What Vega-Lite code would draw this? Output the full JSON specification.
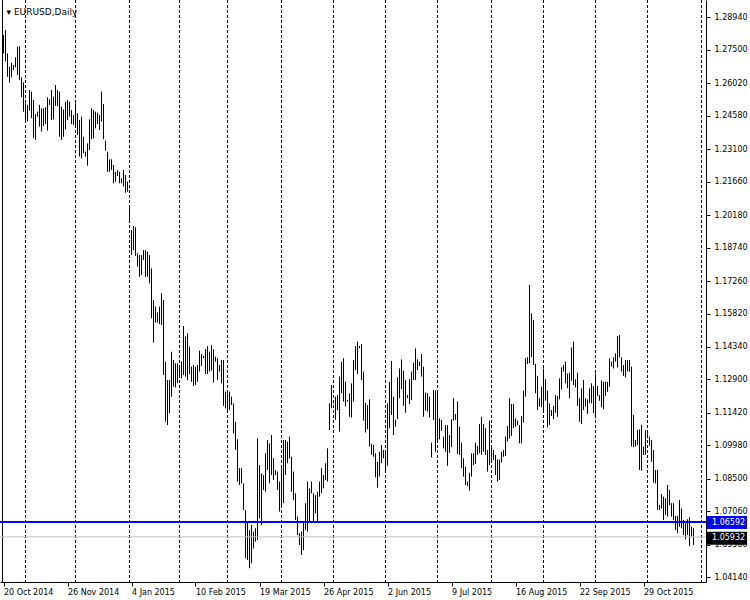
{
"$schema": "https://vega.github.io/schema/vega-lite/v6.json",
"width": 706, "height": 582,
"autosize": {"type": "none"},
"padding": {"left": 0, "top": 0, "right": 44, "bottom": 18},
"background": "white",
"config": {"view": {"stroke": null}, "font": "DejaVu Sans", "axis": {"labelOverlap": false, "labelBound": false, "labelFlush": false}},
"datasets": {
"grid": [{"i":11},{"i":36},{"i":63},{"i":88},{"i":112},{"i":139},{"i":165},{"i":191},{"i":217},{"i":244},{"i":270},{"i":296},{"i":322},{"i":349}],
"bars": [
{"i":0,"h":1.2816,"l":1.2734},{"i":1,"h":1.2838,"l":1.2698},{"i":2,"h":1.2734,"l":1.2631},{"i":3,"h":1.2675,"l":1.2605},{"i":4,"h":1.2693,"l":1.2628},{"i":5,"h":1.2683,"l":1.2661},{"i":6,"h":1.2717,"l":1.2672},{"i":7,"h":1.2764,"l":1.2638},{"i":8,"h":1.2767,"l":1.2616},{"i":9,"h":1.2628,"l":1.2540},
{"i":10,"h":1.2606,"l":1.2476},{"i":11,"h":1.2513,"l":1.2439},{"i":12,"h":1.2506,"l":1.2432},{"i":13,"h":1.2572,"l":1.2481},{"i":14,"h":1.2565,"l":1.2447},{"i":15,"h":1.2528,"l":1.2358},{"i":16,"h":1.2466,"l":1.2351},{"i":17,"h":1.2476,"l":1.2454},{"i":18,"h":1.2506,"l":1.2410},{"i":19,"h":1.2491,"l":1.2388},
{"i":20,"h":1.2491,"l":1.2413},{"i":21,"h":1.2495,"l":1.2421},{"i":22,"h":1.2540,"l":1.2392},{"i":23,"h":1.2531,"l":1.2506},{"i":24,"h":1.2572,"l":1.2439},{"i":25,"h":1.2543,"l":1.2442},{"i":26,"h":1.2594,"l":1.2501},{"i":27,"h":1.2572,"l":1.2501},{"i":28,"h":1.2565,"l":1.2365},{"i":29,"h":1.2498,"l":1.2351},
{"i":30,"h":1.2486,"l":1.2365},{"i":31,"h":1.2520,"l":1.2398},{"i":32,"h":1.2528,"l":1.2439},{"i":33,"h":1.2520,"l":1.2454},{"i":34,"h":1.2483,"l":1.2421},{"i":35,"h":1.2461,"l":1.2417},{"i":36,"h":1.2513,"l":1.2413},{"i":37,"h":1.2469,"l":1.2373},{"i":38,"h":1.2439,"l":1.2277},{"i":39,"h":1.2454,"l":1.2269},
{"i":40,"h":1.2365,"l":1.2292},{"i":41,"h":1.2299,"l":1.2277},{"i":42,"h":1.2336,"l":1.2237},{"i":43,"h":1.2442,"l":1.2306},{"i":44,"h":1.2491,"l":1.2354},{"i":45,"h":1.2483,"l":1.2358},{"i":46,"h":1.2476,"l":1.2402},{"i":47,"h":1.2472,"l":1.2421},{"i":48,"h":1.2461,"l":1.2395},{"i":49,"h":1.2565,"l":1.2432},
{"i":50,"h":1.2510,"l":1.2354},{"i":51,"h":1.2348,"l":1.2303},{"i":52,"h":1.2299,"l":1.2210},{"i":53,"h":1.2265,"l":1.2210},{"i":54,"h":1.2265,"l":1.2218},{"i":55,"h":1.2240,"l":1.2159},{"i":56,"h":1.2210,"l":1.2166},{"i":57,"h":1.2218,"l":1.2191},{"i":58,"h":1.2210,"l":1.2159},{"i":59,"h":1.2181,"l":1.2159},
{"i":60,"h":1.2218,"l":1.2144},{"i":61,"h":1.2196,"l":1.2117},{"i":62,"h":1.2166,"l":1.2122},{"i":63,"h":1.2063,"l":1.1996},{"i":64,"h":1.1952,"l":1.1841},{"i":65,"h":1.1970,"l":1.1863},{"i":66,"h":1.1964,"l":1.1837},{"i":67,"h":1.1849,"l":1.1790},{"i":68,"h":1.1841,"l":1.1745},{"i":69,"h":1.1841,"l":1.1753},
{"i":70,"h":1.1863,"l":1.1819},{"i":71,"h":1.1863,"l":1.1745},{"i":72,"h":1.1856,"l":1.1745},{"i":73,"h":1.1841,"l":1.1716},{"i":74,"h":1.1782,"l":1.1561},{"i":75,"h":1.1642,"l":1.1453},{"i":76,"h":1.1613,"l":1.1542},{"i":77,"h":1.1586,"l":1.1542},{"i":78,"h":1.1613,"l":1.1536},{"i":79,"h":1.1672,"l":1.1531},
{"i":80,"h":1.1642,"l":1.1310},{"i":81,"h":1.1369,"l":1.1103},{"i":82,"h":1.1288,"l":1.1088},{"i":83,"h":1.1288,"l":1.1140},{"i":84,"h":1.1413,"l":1.1214},{"i":85,"h":1.1376,"l":1.1258},{"i":86,"h":1.1362,"l":1.1255},{"i":87,"h":1.1362,"l":1.1273},{"i":88,"h":1.1347,"l":1.1303},{"i":89,"h":1.1369,"l":1.1295},
{"i":90,"h":1.1527,"l":1.1310},{"i":91,"h":1.1480,"l":1.1303},{"i":92,"h":1.1494,"l":1.1288},{"i":93,"h":1.1435,"l":1.1314},{"i":94,"h":1.1347,"l":1.1280},{"i":95,"h":1.1354,"l":1.1261},{"i":96,"h":1.1347,"l":1.1266},{"i":97,"h":1.1354,"l":1.1280},{"i":98,"h":1.1418,"l":1.1325},{"i":99,"h":1.1403,"l":1.1350},
{"i":100,"h":1.1394,"l":1.1384},{"i":101,"h":1.1424,"l":1.1314},{"i":102,"h":1.1438,"l":1.1314},{"i":103,"h":1.1413,"l":1.1325},{"i":104,"h":1.1443,"l":1.1329},{"i":105,"h":1.1424,"l":1.1276},{"i":106,"h":1.1391,"l":1.1369},{"i":107,"h":1.1384,"l":1.1288},{"i":108,"h":1.1354,"l":1.1325},{"i":109,"h":1.1376,"l":1.1273},
{"i":110,"h":1.1376,"l":1.1173},{"i":111,"h":1.1236,"l":1.1162},{"i":112,"h":1.1229,"l":1.1148},{"i":113,"h":1.1236,"l":1.1155},{"i":114,"h":1.1214,"l":1.1177},{"i":115,"h":1.1184,"l":1.1052},{"i":116,"h":1.1103,"l":1.0978},{"i":117,"h":1.1025,"l":1.0838},{"i":118,"h":1.0897,"l":1.0823},{"i":119,"h":1.0897,"l":1.0830},
{"i":120,"h":1.0830,"l":1.0712},{"i":121,"h":1.0712,"l":1.0498},{"i":122,"h":1.0660,"l":1.0491},{"i":123,"h":1.0623,"l":1.0454},{"i":124,"h":1.0646,"l":1.0476},{"i":125,"h":1.0616,"l":1.0542},{"i":126,"h":1.0631,"l":1.0572},{"i":127,"h":1.1029,"l":1.0579},{"i":128,"h":1.0911,"l":1.0675},{"i":129,"h":1.0874,"l":1.0646},
{"i":130,"h":1.0867,"l":1.0801},{"i":131,"h":1.0963,"l":1.0793},{"i":132,"h":1.1022,"l":1.0889},{"i":133,"h":1.1007,"l":1.0830},{"i":134,"h":1.1044,"l":1.0867},{"i":135,"h":1.0941,"l":1.0845},{"i":136,"h":1.0889,"l":1.0867},{"i":137,"h":1.0882,"l":1.0801},{"i":138,"h":1.0838,"l":1.0705},{"i":139,"h":1.0897,"l":1.0734},
{"i":140,"h":1.1022,"l":1.0742},{"i":141,"h":1.1022,"l":1.0867},{"i":142,"h":1.1015,"l":1.0919},{"i":143,"h":1.1037,"l":1.0941},{"i":144,"h":1.0948,"l":1.0793},{"i":145,"h":1.0882,"l":1.0756},{"i":146,"h":1.0786,"l":1.0668},{"i":147,"h":1.0683,"l":1.0601},{"i":148,"h":1.0609,"l":1.0557},{"i":149,"h":1.0616,"l":1.0513},
{"i":150,"h":1.0660,"l":1.0535},{"i":151,"h":1.0742,"l":1.0623},{"i":152,"h":1.0838,"l":1.0616},{"i":153,"h":1.0808,"l":1.0660},{"i":154,"h":1.0838,"l":1.0786},{"i":155,"h":1.0786,"l":1.0660},{"i":156,"h":1.0778,"l":1.0697},{"i":157,"h":1.0793,"l":1.0660},{"i":158,"h":1.0838,"l":1.0771},{"i":159,"h":1.0897,"l":1.0786},
{"i":160,"h":1.0867,"l":1.0808},{"i":161,"h":1.0919,"l":1.0845},{"i":162,"h":1.0985,"l":1.0838},{"i":163,"h":1.1184,"l":1.1066},{"i":164,"h":1.1266,"l":1.1162},{"i":165,"h":1.1199,"l":1.1184},{"i":166,"h":1.1214,"l":1.1111},{"i":167,"h":1.1221,"l":1.1155},{"i":168,"h":1.1303,"l":1.1059},{"i":169,"h":1.1369,"l":1.1229},
{"i":170,"h":1.1384,"l":1.1192},{"i":171,"h":1.1280,"l":1.1170},{"i":172,"h":1.1199,"l":1.1192},{"i":173,"h":1.1229,"l":1.1125},{"i":174,"h":1.1273,"l":1.1122},{"i":175,"h":1.1376,"l":1.1192},{"i":176,"h":1.1438,"l":1.1332},{"i":177,"h":1.1458,"l":1.1314},{"i":178,"h":1.1438,"l":1.1428},{"i":179,"h":1.1447,"l":1.1288},
{"i":180,"h":1.1325,"l":1.1108},{"i":181,"h":1.1187,"l":1.1055},{"i":182,"h":1.1177,"l":1.1069},{"i":183,"h":1.1202,"l":1.0993},{"i":184,"h":1.1004,"l":1.0956},{"i":185,"h":1.1000,"l":1.0948},{"i":186,"h":1.0963,"l":1.0857},{"i":187,"h":1.0926,"l":1.0811},{"i":188,"h":1.0970,"l":1.0860},{"i":189,"h":1.1000,"l":1.0919},
{"i":190,"h":1.0978,"l":1.0941},{"i":191,"h":1.0978,"l":1.0877},{"i":192,"h":1.1184,"l":1.0908},{"i":193,"h":1.1280,"l":1.1074},{"i":194,"h":1.1372,"l":1.1133},{"i":195,"h":1.1214,"l":1.1044},{"i":196,"h":1.1111,"l":1.1081},{"i":197,"h":1.1300,"l":1.1114},{"i":198,"h":1.1339,"l":1.1207},{"i":199,"h":1.1379,"l":1.1246},
{"i":200,"h":1.1329,"l":1.1173},{"i":201,"h":1.1288,"l":1.1143},{"i":202,"h":1.1221,"l":1.1207},{"i":203,"h":1.1291,"l":1.1181},{"i":204,"h":1.1325,"l":1.1199},{"i":205,"h":1.1365,"l":1.1288},{"i":206,"h":1.1428,"l":1.1288},{"i":207,"h":1.1379,"l":1.1332},{"i":208,"h":1.1369,"l":1.1350},{"i":209,"h":1.1403,"l":1.1303},
{"i":210,"h":1.1347,"l":1.1125},{"i":211,"h":1.1232,"l":1.1152},{"i":212,"h":1.1229,"l":1.1148},{"i":213,"h":1.1214,"l":1.1122},{"i":214,"h":1.1010,"l":1.0945},{"i":215,"h":1.1243,"l":1.1111},{"i":216,"h":1.1241,"l":1.0970},{"i":217,"h":1.1241,"l":1.1010},{"i":218,"h":1.1118,"l":1.1025},{"i":219,"h":1.1111,"l":1.1063},
{"i":220,"h":1.1037,"l":1.0985},{"i":221,"h":1.1088,"l":1.0970},{"i":222,"h":1.1088,"l":1.0908},{"i":223,"h":1.1044,"l":1.0966},{"i":224,"h":1.1114,"l":1.0990},{"i":225,"h":1.1207,"l":1.1108},{"i":226,"h":1.1137,"l":1.1111},{"i":227,"h":1.1192,"l":1.0960},{"i":228,"h":1.1081,"l":1.0956},{"i":229,"h":1.1010,"l":1.0897},
{"i":230,"h":1.0941,"l":1.0860},{"i":231,"h":1.0904,"l":1.0823},{"i":232,"h":1.0838,"l":1.0818},{"i":233,"h":1.0877,"l":1.0798},{"i":234,"h":1.0963,"l":1.0860},{"i":235,"h":1.0963,"l":1.0911},{"i":236,"h":1.1010,"l":1.0916},{"i":237,"h":1.0996,"l":1.0956},{"i":238,"h":1.1093,"l":1.0963},{"i":239,"h":1.1125,"l":1.0956},
{"i":240,"h":1.1093,"l":1.0970},{"i":241,"h":1.1074,"l":1.0956},{"i":242,"h":1.0978,"l":1.0882},{"i":243,"h":1.1108,"l":1.0911},{"i":244,"h":1.0993,"l":1.0931},{"i":245,"h":1.0978,"l":1.0933},{"i":246,"h":1.0956,"l":1.0867},{"i":247,"h":1.0936,"l":1.0838},{"i":248,"h":1.0936,"l":1.0845},{"i":249,"h":1.0970,"l":1.0922},
{"i":250,"h":1.0978,"l":1.0948},{"i":251,"h":1.1037,"l":1.0951},{"i":252,"h":1.1084,"l":1.1015},{"i":253,"h":1.1207,"l":1.1029},{"i":254,"h":1.1181,"l":1.1040},{"i":255,"h":1.1181,"l":1.1074},{"i":256,"h":1.1118,"l":1.1081},{"i":257,"h":1.1108,"l":1.1088},{"i":258,"h":1.1088,"l":1.1007},{"i":259,"h":1.1128,"l":1.1007},
{"i":260,"h":1.1241,"l":1.1099},{"i":261,"h":1.1384,"l":1.1214},{"i":262,"h":1.1388,"l":1.1359},{"i":263,"h":1.1709,"l":1.1362},{"i":264,"h":1.1583,"l":1.1388},{"i":265,"h":1.1554,"l":1.1354},{"i":266,"h":1.1359,"l":1.1229},{"i":267,"h":1.1306,"l":1.1155},{"i":268,"h":1.1207,"l":1.1170},{"i":269,"h":1.1258,"l":1.1167},
{"i":270,"h":1.1339,"l":1.1148},{"i":271,"h":1.1291,"l":1.1196},{"i":272,"h":1.1241,"l":1.1078},{"i":273,"h":1.1184,"l":1.1089},{"i":274,"h":1.1155,"l":1.1128},{"i":275,"h":1.1173,"l":1.1114},{"i":276,"h":1.1221,"l":1.1143},{"i":277,"h":1.1217,"l":1.1125},{"i":278,"h":1.1295,"l":1.1202},{"i":279,"h":1.1344,"l":1.1246},
{"i":280,"h":1.1354,"l":1.1325},{"i":281,"h":1.1369,"l":1.1273},{"i":282,"h":1.1317,"l":1.1251},{"i":283,"h":1.1320,"l":1.1207},{"i":284,"h":1.1432,"l":1.1285},{"i":285,"h":1.1458,"l":1.1266},{"i":286,"h":1.1291,"l":1.1255},{"i":287,"h":1.1320,"l":1.1173},{"i":288,"h":1.1207,"l":1.1103},{"i":289,"h":1.1251,"l":1.1093},
{"i":290,"h":1.1288,"l":1.1155},{"i":291,"h":1.1207,"l":1.1170},{"i":292,"h":1.1202,"l":1.1137},{"i":293,"h":1.1251,"l":1.1187},{"i":294,"h":1.1273,"l":1.1184},{"i":295,"h":1.1261,"l":1.1140},{"i":296,"h":1.1317,"l":1.1118},{"i":297,"h":1.1261,"l":1.1217},{"i":298,"h":1.1221,"l":1.1196},{"i":299,"h":1.1285,"l":1.1167},
{"i":300,"h":1.1280,"l":1.1158},{"i":301,"h":1.1280,"l":1.1217},{"i":302,"h":1.1280,"l":1.1236},{"i":303,"h":1.1384,"l":1.1258},{"i":304,"h":1.1369,"l":1.1347},{"i":305,"h":1.1388,"l":1.1339},{"i":306,"h":1.1406,"l":1.1369},{"i":307,"h":1.1483,"l":1.1344},{"i":308,"h":1.1487,"l":1.1388},{"i":309,"h":1.1388,"l":1.1325},
{"i":310,"h":1.1354,"l":1.1306},{"i":311,"h":1.1376,"l":1.1300},{"i":312,"h":1.1376,"l":1.1325},{"i":313,"h":1.1376,"l":1.1325},{"i":314,"h":1.1347,"l":1.0993},{"i":315,"h":1.1133,"l":1.0990},{"i":316,"h":1.1022,"l":1.0993},{"i":317,"h":1.1066,"l":1.1000},{"i":318,"h":1.1069,"l":1.0889},{"i":319,"h":1.1089,"l":1.0886},
{"i":320,"h":1.0993,"l":1.0956},{"i":321,"h":1.1066,"l":1.0956},{"i":322,"h":1.1052,"l":1.1029},{"i":323,"h":1.1037,"l":1.0996},{"i":324,"h":1.1022,"l":1.0926},{"i":325,"h":1.0978,"l":1.0833},{"i":326,"h":1.0889,"l":1.0830},{"i":327,"h":1.0889,"l":1.0712},{"i":328,"h":1.0734,"l":1.0712},{"i":329,"h":1.0783,"l":1.0719},
{"i":330,"h":1.0771,"l":1.0668},{"i":331,"h":1.0764,"l":1.0690},{"i":332,"h":1.0823,"l":1.0683},{"i":333,"h":1.0801,"l":1.0734},{"i":334,"h":1.0742,"l":1.0683},{"i":335,"h":1.0742,"l":1.0668},{"i":336,"h":1.0686,"l":1.0624},{"i":337,"h":1.0686,"l":1.0609},{"i":338,"h":1.0756,"l":1.0638},{"i":339,"h":1.0719,"l":1.0631},
{"i":340,"h":1.0668,"l":1.0601},{"i":341,"h":1.0653,"l":1.0582},{"i":342,"h":1.0671,"l":1.0601},{"i":343,"h":1.0680,"l":1.0553},{"i":344,"h":1.0638,"l":1.0594},{"i":345,"h":1.0631,"l":1.0557}
]
},
"layer": [
{
"data": {"name": "bars"},
"mark": {"type": "rule", "color": "black", "strokeWidth": 1},
"encoding": {
"x": {"field": "i", "type": "quantitative", "scale": {"domain": [-1.75, 351.25], "nice": false, "zero": false},
"axis": {"orient": "bottom", "values": [0,32,64,96,128,160,192,224,256,288,320], "tickCount": 30,
"labelExpr": "['20 Oct 2014','26 Nov 2014','4 Jan 2015','10 Feb 2015','19 Mar 2015','26 Apr 2015','2 Jun 2015','9 Jul 2015','16 Aug 2015','22 Sep 2015','29 Oct 2015'][round(datum.value/32)]",
"title": null, "grid": false, "tickSize": 4, "tickColor": "black", "domainColor": "black", "labelAlign": "left", "labelPadding": 2, "labelFont": "DejaVu Sans", "labelFontSize": 8, "labelColor": "black", "labelOverlap": false, "labelFlush": false, "labelBound": false}},
"y": {"field": "h", "type": "quantitative", "scale": {"domain": [1.03932, 1.29706], "nice": false, "zero": false},
"axis": {"orient": "right", "values": [1.2894,1.275,1.2602,1.2458,1.231,1.2166,1.2018,1.1874,1.1726,1.1582,1.1434,1.129,1.1142,1.0998,1.085,1.0706,1.0558,1.0414], "tickCount": 40,
"format": ".5f", "grid": false, "tickSize": 4, "tickColor": "black", "domainColor": "black", "labelPadding": 4, "labelFont": "DejaVu Sans", "labelFontSize": 8, "labelColor": "black", "labelOverlap": false, "labelFlush": false, "labelBound": false,
"title": "▾  EURUSD,Daily", "titleAngle": 0, "titleX": -700, "titleY": 14, "titleAlign": "left", "titleBaseline": "alphabetic", "titleFont": "DejaVu Sans", "titleFontSize": 9, "titleFontWeight": "normal", "titleColor": "black"}},
"y2": {"field": "l"}
}
},
{
"data": {"name": "grid"},
"mark": {"type": "rule", "color": "black", "strokeWidth": 1, "strokeDash": [3, 2]},
"encoding": {"x": {"field": "i", "type": "quantitative"}}
},
{
"data": {"values": [{}]},
"mark": {"type": "rule", "color": "black", "strokeWidth": 1},
"encoding": {"x": {"datum": -0.5, "type": "quantitative"}}
},
{
"data": {"values": [{}]},
"mark": {"type": "rule", "color": "#c0c0c0", "strokeWidth": 1},
"encoding": {"y": {"datum": 1.05932, "type": "quantitative"}}
},
{
"data": {"values": [{}]},
"mark": {"type": "rule", "color": "#0000ff", "strokeWidth": 2},
"encoding": {"y": {"datum": 1.06592, "type": "quantitative"}}
},
{
"data": {"values": [{}]},
"mark": {"type": "rect", "color": "#0000ff", "xOffset": 1, "x2Offset": 41, "yOffset": -6, "y2Offset": 7},
"encoding": {"x": {"value": "width"}, "x2": {"value": "width"}, "y": {"datum": 1.06592, "type": "quantitative"}, "y2": {"datum": 1.06592}}
},
{
"data": {"values": [{}]},
"mark": {"type": "text", "color": "white", "align": "left", "baseline": "middle", "dx": 6, "dy": 1, "font": "DejaVu Sans", "fontSize": 8, "text": "1.06592"},
"encoding": {"x": {"value": "width"}, "y": {"datum": 1.06592, "type": "quantitative"}}
},
{
"data": {"values": [{}]},
"mark": {"type": "rect", "color": "black", "xOffset": 1, "x2Offset": 41, "yOffset": -5, "y2Offset": 8},
"encoding": {"x": {"value": "width"}, "x2": {"value": "width"}, "y": {"datum": 1.05932, "type": "quantitative"}, "y2": {"datum": 1.05932}}
},
{
"data": {"values": [{}]},
"mark": {"type": "text", "color": "white", "align": "left", "baseline": "middle", "dx": 6, "dy": 1.5, "font": "DejaVu Sans", "fontSize": 8, "text": "1.05932"},
"encoding": {"x": {"value": "width"}, "y": {"datum": 1.05932, "type": "quantitative"}}
}
]
}
